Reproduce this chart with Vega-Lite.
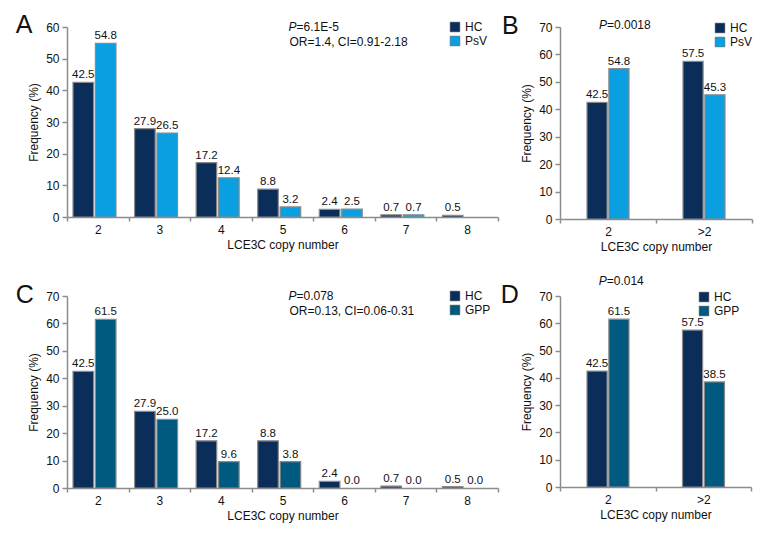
{
  "$schema": "https://vega.github.io/schema/vega-lite/v6.json",
  "padding": {"left": 15, "top": 13, "right": 5, "bottom": 5},
  "bounds": "flush",
  "columns": 2,
  "spacing": {"row": 77, "column": 62},
  "resolve": {"scale": {"color": "independent", "x": "independent", "y": "independent", "xOffset": "independent"}, "legend": {"color": "independent"}},
  "datasets": {
    "A": [
      {"copy": "2", "group": "HC", "value": 42.5, "label": "42.5"},
      {"copy": "2", "group": "PsV", "value": 54.8, "label": "54.8"},
      {"copy": "3", "group": "HC", "value": 27.9, "label": "27.9"},
      {"copy": "3", "group": "PsV", "value": 26.5, "label": "26.5"},
      {"copy": "4", "group": "HC", "value": 17.2, "label": "17.2"},
      {"copy": "4", "group": "PsV", "value": 12.4, "label": "12.4"},
      {"copy": "5", "group": "HC", "value": 8.8, "label": "8.8"},
      {"copy": "5", "group": "PsV", "value": 3.2, "label": "3.2"},
      {"copy": "6", "group": "HC", "value": 2.4, "label": "2.4"},
      {"copy": "6", "group": "PsV", "value": 2.5, "label": "2.5"},
      {"copy": "7", "group": "HC", "value": 0.7, "label": "0.7"},
      {"copy": "7", "group": "PsV", "value": 0.7, "label": "0.7"},
      {"copy": "8", "group": "HC", "value": 0.5, "label": "0.5"},
      {"copy": "8", "group": "PsV", "value": 0, "label": ""}
    ],
    "B": [
      {"copy": "2", "group": "HC", "value": 42.5, "label": "42.5"},
      {"copy": "2", "group": "PsV", "value": 54.8, "label": "54.8"},
      {"copy": ">2", "group": "HC", "value": 57.5, "label": "57.5"},
      {"copy": ">2", "group": "PsV", "value": 45.3, "label": "45.3"}
    ],
    "C": [
      {"copy": "2", "group": "HC", "value": 42.5, "label": "42.5"},
      {"copy": "2", "group": "GPP", "value": 61.5, "label": "61.5"},
      {"copy": "3", "group": "HC", "value": 27.9, "label": "27.9"},
      {"copy": "3", "group": "GPP", "value": 25.0, "label": "25.0"},
      {"copy": "4", "group": "HC", "value": 17.2, "label": "17.2"},
      {"copy": "4", "group": "GPP", "value": 9.6, "label": "9.6"},
      {"copy": "5", "group": "HC", "value": 17.2, "label": "8.8"},
      {"copy": "5", "group": "GPP", "value": 9.6, "label": "3.8"},
      {"copy": "6", "group": "HC", "value": 2.4, "label": "2.4"},
      {"copy": "6", "group": "GPP", "value": 0, "label": "0.0"},
      {"copy": "7", "group": "HC", "value": 0.7, "label": "0.7"},
      {"copy": "7", "group": "GPP", "value": 0, "label": "0.0"},
      {"copy": "8", "group": "HC", "value": 0.5, "label": "0.5"},
      {"copy": "8", "group": "GPP", "value": 0, "label": "0.0"}
    ],
    "D": [
      {"copy": "2", "group": "HC", "value": 42.5, "label": "42.5"},
      {"copy": "2", "group": "GPP", "value": 61.5, "label": "61.5"},
      {"copy": ">2", "group": "HC", "value": 57.5, "label": "57.5"},
      {"copy": ">2", "group": "GPP", "value": 38.5, "label": "38.5"}
    ],
    "notes": [
      {"panel": "A", "p": "=6.1E-5", "stats": "OR=1.4, CI=0.91-2.18"},
      {"panel": "B", "p": "=0.0018", "stats": ""},
      {"panel": "C", "p": "=0.078", "stats": "OR=0.13, CI=0.06-0.31"},
      {"panel": "D", "p": "=0.014", "stats": ""}
    ]
  },
  "config": {
    "view": {"stroke": null},
    "font": "Liberation Sans, Arial, sans-serif",
    "axis": {
      "domainColor": "#8c8c8c", "domainWidth": 1.5, "tickColor": "#8c8c8c", "tickWidth": 1.5,
      "tickSize": 5, "grid": false, "labelFontSize": 12, "labelColor": "#111",
      "titleFontSize": 12, "titleFontWeight": "normal", "titleColor": "#111",
      "labelFont": "Liberation Sans, Arial, sans-serif",
      "titleFont": "Liberation Sans, Arial, sans-serif"
    },
    "axisY": {"labelPadding": 3, "titlePadding": 5},
    "axisX": {"labelAngle": 0, "tickBand": "extent", "tickSize": 4, "labelPadding": 3, "titlePadding": 4},
    "legend": {
      "symbolType": "square", "symbolSize": 95, "symbolStrokeColor": "#555", "symbolStrokeWidth": 0.5,
      "labelFontSize": 12, "labelColor": "#111", "labelOffset": 4, "rowPadding": 2, "symbolOpacity": 1,
      "labelFont": "Liberation Sans, Arial, sans-serif"
    },
    "text": {"font": "Liberation Sans, Arial, sans-serif", "color": "#111"}
  },
  "concat": [
    {
      "width": 431, "height": 190,
      "layer": [
        {
          "data": {"name": "A"},
          "encoding": {
            "x": {"field": "copy", "type": "nominal", "sort": ["2","3","4","5","6","7","8"], "scale": {"paddingInner": 0, "paddingOuter": 0}, "axis": {"title": "LCE3C copy number"}},
            "y": {"field": "value", "type": "quantitative", "scale": {"domain": [0, 60], "nice": false}, "axis": {"title": "Frequency (%)", "values": [0,10,20,30,40,50,60]}}
          },
          "layer": [
            {
              "mark": {"type": "bar", "stroke": "#8a8a8a", "strokeWidth": 1.2},
              "encoding": {
                "xOffset": {"field": "group", "type": "nominal", "sort": ["HC","PsV"], "scale": {"range": [6, 49], "paddingInner": 0.08}},
                "strokeOpacity": {"condition": {"test": "datum.value > 0", "value": 1}, "value": 0},
                "color": {"field": "group", "type": "nominal", "sort": ["HC","PsV"], "scale": {"domain": ["HC","PsV"], "range": ["#0b2d5a", "#0a9fe0"]}, "legend": {"title": null, "orient": "none", "legendX": 382, "legendY": -6}}
              }
            },
            {
              "mark": {"type": "text", "baseline": "bottom", "dy": -2, "fontSize": 11.5},
              "encoding": {
                "xOffset": {"field": "group", "type": "nominal", "sort": ["HC","PsV"]},
                "text": {"field": "label"}
              }
            }
          ]
        },
        {
          "data": {"name": "notes"},
          "transform": [{"filter": "datum.panel === 'A'"}],
          "encoding": {
            "y": {"datum": 60, "type": "quantitative", "axis": {"title": "Frequency (%)", "values": [0,10,20,30,40,50,60]}}
          },
          "layer": [
            {"mark": {"type": "text", "align": "right", "baseline": "middle", "fontStyle": "italic", "fontSize": 12, "dx": 14}, "encoding": {"x": {"datum": "5", "type": "nominal"}, "text": {"value": "P"}}},
            {"mark": {"type": "text", "align": "left", "baseline": "middle", "fontSize": 12, "dx": 14}, "encoding": {"x": {"datum": "5", "type": "nominal"}, "text": {"field": "p"}}},
            {"mark": {"type": "text", "align": "left", "baseline": "middle", "fontSize": 12, "dx": 7, "dy": 15}, "encoding": {"x": {"datum": "5", "type": "nominal"}, "text": {"field": "stats"}}},
            {"mark": {"type": "text", "align": "left", "baseline": "alphabetic", "fontSize": 25, "dx": -82, "dy": 6}, "encoding": {"x": {"datum": "2", "type": "nominal"}, "text": {"field": "panel"}}}
          ]
        }
      ]
    },
    {
      "width": 192, "height": 192,
      "layer": [
        {
          "data": {"name": "B"},
          "encoding": {
            "x": {"field": "copy", "type": "nominal", "sort": ["2", ">2"], "scale": {"paddingInner": 0, "paddingOuter": 0}, "axis": {"title": "LCE3C copy number"}},
            "y": {"field": "value", "type": "quantitative", "scale": {"domain": [0, 70], "nice": false}, "axis": {"title": "Frequency (%)", "values": [0,10,20,30,40,50,60,70]}}
          },
          "layer": [
            {
              "mark": {"type": "bar", "stroke": "#8a8a8a", "strokeWidth": 1.2},
              "encoding": {
                "xOffset": {"field": "group", "type": "nominal", "sort": ["HC","PsV"], "scale": {"range": [27, 69], "paddingInner": 0.08}},
                "color": {"field": "group", "type": "nominal", "sort": ["HC","PsV"], "scale": {"domain": ["HC","PsV"], "range": ["#0b2d5a", "#0a9fe0"]}, "legend": {"title": null, "orient": "none", "legendX": 154, "legendY": -5}}
              }
            },
            {
              "mark": {"type": "text", "baseline": "bottom", "dy": -2, "fontSize": 11.5},
              "encoding": {
                "xOffset": {"field": "group", "type": "nominal", "sort": ["HC","PsV"]},
                "text": {"field": "label"}
              }
            }
          ]
        },
        {
          "data": {"name": "notes"},
          "transform": [{"filter": "datum.panel === 'B'"}],
          "encoding": {
            "y": {"datum": 70, "type": "quantitative", "axis": {"title": "Frequency (%)", "values": [0,10,20,30,40,50,60,70]}}
          },
          "layer": [
            {"mark": {"type": "text", "align": "right", "baseline": "middle", "fontStyle": "italic", "fontSize": 12, "dx": -1, "dy": -2}, "encoding": {"x": {"datum": "2", "type": "nominal"}, "text": {"value": "P"}}},
            {"mark": {"type": "text", "align": "left", "baseline": "middle", "fontSize": 12, "dx": -1, "dy": -2}, "encoding": {"x": {"datum": "2", "type": "nominal"}, "text": {"field": "p"}}},
            {"mark": {"type": "text", "align": "left", "baseline": "alphabetic", "fontSize": 25, "dx": -106, "dy": 7}, "encoding": {"x": {"datum": "2", "type": "nominal"}, "text": {"field": "panel"}}}
          ]
        }
      ]
    },
    {
      "width": 431, "height": 192,
      "layer": [
        {
          "data": {"name": "C"},
          "encoding": {
            "x": {"field": "copy", "type": "nominal", "sort": ["2","3","4","5","6","7","8"], "scale": {"paddingInner": 0, "paddingOuter": 0}, "axis": {"title": "LCE3C copy number"}},
            "y": {"field": "value", "type": "quantitative", "scale": {"domain": [0, 70], "nice": false}, "axis": {"title": "Frequency (%)", "values": [0,10,20,30,40,50,60,70]}}
          },
          "layer": [
            {
              "mark": {"type": "bar", "stroke": "#8a8a8a", "strokeWidth": 1.2},
              "encoding": {
                "xOffset": {"field": "group", "type": "nominal", "sort": ["HC","GPP"], "scale": {"range": [6, 49], "paddingInner": 0.08}},
                "strokeOpacity": {"condition": {"test": "datum.value > 0", "value": 1}, "value": 0},
                "color": {"field": "group", "type": "nominal", "sort": ["HC","GPP"], "scale": {"domain": ["HC","GPP"], "range": ["#0b2d5a", "#005a80"]}, "legend": {"title": null, "orient": "none", "legendX": 382, "legendY": -6}}
              }
            },
            {
              "mark": {"type": "text", "baseline": "bottom", "dy": -2, "fontSize": 11.5},
              "encoding": {
                "xOffset": {"field": "group", "type": "nominal", "sort": ["HC","GPP"]},
                "text": {"field": "label"}
              }
            }
          ]
        },
        {
          "data": {"name": "notes"},
          "transform": [{"filter": "datum.panel === 'C'"}],
          "encoding": {
            "y": {"datum": 70, "type": "quantitative", "axis": {"title": "Frequency (%)", "values": [0,10,20,30,40,50,60,70]}}
          },
          "layer": [
            {"mark": {"type": "text", "align": "right", "baseline": "middle", "fontStyle": "italic", "fontSize": 12, "dx": 14}, "encoding": {"x": {"datum": "5", "type": "nominal"}, "text": {"value": "P"}}},
            {"mark": {"type": "text", "align": "left", "baseline": "middle", "fontSize": 12, "dx": 14}, "encoding": {"x": {"datum": "5", "type": "nominal"}, "text": {"field": "p"}}},
            {"mark": {"type": "text", "align": "left", "baseline": "middle", "fontSize": 12, "dx": 7, "dy": 15}, "encoding": {"x": {"datum": "5", "type": "nominal"}, "text": {"field": "stats"}}},
            {"mark": {"type": "text", "align": "left", "baseline": "alphabetic", "fontSize": 25, "dx": -82, "dy": 7}, "encoding": {"x": {"datum": "2", "type": "nominal"}, "text": {"field": "panel"}}}
          ]
        }
      ]
    },
    {
      "width": 191, "height": 191,
      "layer": [
        {
          "data": {"name": "D"},
          "encoding": {
            "x": {"field": "copy", "type": "nominal", "sort": ["2", ">2"], "scale": {"paddingInner": 0, "paddingOuter": 0}, "axis": {"title": "LCE3C copy number"}},
            "y": {"field": "value", "type": "quantitative", "scale": {"domain": [0, 70], "nice": false}, "axis": {"title": "Frequency (%)", "values": [0,10,20,30,40,50,60,70]}}
          },
          "layer": [
            {
              "mark": {"type": "bar", "stroke": "#8a8a8a", "strokeWidth": 1.2},
              "encoding": {
                "xOffset": {"field": "group", "type": "nominal", "sort": ["HC","GPP"], "scale": {"range": [27, 69], "paddingInner": 0.08}},
                "color": {"field": "group", "type": "nominal", "sort": ["HC","GPP"], "scale": {"domain": ["HC","GPP"], "range": ["#0b2d5a", "#005a80"]}, "legend": {"title": null, "orient": "none", "legendX": 138, "legendY": -5}}
              }
            },
            {
              "mark": {"type": "text", "baseline": "bottom", "dy": -2, "fontSize": 11.5},
              "encoding": {
                "xOffset": {"field": "group", "type": "nominal", "sort": ["HC","GPP"]},
                "text": {"field": "label"}
              }
            }
          ]
        },
        {
          "data": {"name": "notes"},
          "transform": [{"filter": "datum.panel === 'D'"}],
          "encoding": {
            "y": {"datum": 70, "type": "quantitative", "axis": {"title": "Frequency (%)", "values": [0,10,20,30,40,50,60,70]}}
          },
          "layer": [
            {"mark": {"type": "text", "align": "right", "baseline": "middle", "fontStyle": "italic", "fontSize": 12, "dx": -1, "dy": -15}, "encoding": {"x": {"datum": "2", "type": "nominal"}, "text": {"value": "P"}}},
            {"mark": {"type": "text", "align": "left", "baseline": "middle", "fontSize": 12, "dx": -1, "dy": -15}, "encoding": {"x": {"datum": "2", "type": "nominal"}, "text": {"field": "p"}}},
            {"mark": {"type": "text", "align": "left", "baseline": "alphabetic", "fontSize": 25, "dx": -107, "dy": 7}, "encoding": {"x": {"datum": "2", "type": "nominal"}, "text": {"field": "panel"}}}
          ]
        }
      ]
    }
  ]
}
